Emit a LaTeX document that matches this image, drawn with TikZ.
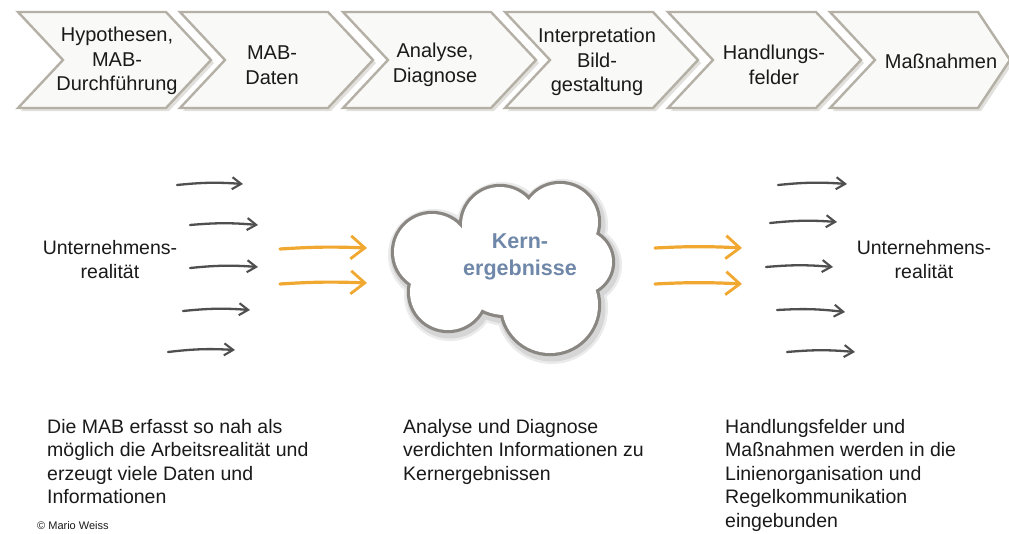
\documentclass[tikz,border=0pt]{standalone}
\usepackage{fontspec}
\setmainfont{Liberation Sans}
\usetikzlibrary{arrows.meta}
\definecolor{chevline}{HTML}{B4B0A6}
\definecolor{chevshadow}{HTML}{E2E0DC}
\definecolor{chevfill}{HTML}{F9F9F7}
\definecolor{arrgray}{HTML}{4F4F4F}
\definecolor{arrorange}{HTML}{F0A830}
\definecolor{kerncol}{HTML}{6F87A8}
\definecolor{cloudline}{HTML}{8A8682}
\definecolor{txt}{HTML}{1A1A1A}
\newcommand\chevshape[2]{%
  \fill[chevshadow] (#1+3,15) -- ++(148,0) -- ++(#2,48) -- ++(-#2,48) -- ++(-148,0) -- ++(45,-48) -- cycle;
  \draw[chevbox] (#1,12) -- ++(148,0) -- ++(#2,48) -- ++(-#2,48) -- ++(-148,0) -- ++(45,-48) -- cycle;}
\newcommand\cloudcircles[1]{%
  \path[#1] (432,252) circle[radius=38pt] (500,225) circle[radius=38pt]
    (560,222) circle[radius=38pt] (580,262) circle[radius=32pt]
    (550,305) circle[radius=48pt] (448,292) circle[radius=38pt]
    (505,265) circle[radius=50pt];}
\begin{document}
\begin{tikzpicture}[x=1pt,y=-1pt,
  chevbox/.style={draw=chevline,fill=chevfill,line width=2.4pt,line join=miter},
  ctext/.style={align=center,inner sep=0pt,text=txt,font=\fontsize{20}{24.5}\selectfont},
  utext/.style={align=center,inner sep=0pt,text=txt,font=\fontsize{19.5}{24}\selectfont},
  btext/.style={align=left,inner sep=0pt,anchor=north west,text=txt,font=\fontsize{19.5}{23.5}\selectfont},
  garrow/.style={draw=arrgray,line width=2.3pt,line cap=round,-{Straight Barb[length=9pt,width=12pt,line width=2.1pt]}},
  oarrow/.style={draw=arrorange,line width=3.2pt,line cap=round,-{Straight Barb[length=14pt,width=23pt,line width=2.8pt]}}]
\useasboundingbox (0,0) rectangle (1009,533);
\fill[white] (0,0) rectangle (1009,533);

% process chevrons
\chevshape{18}{45}
\chevshape{180}{45}
\chevshape{343}{45}
\chevshape{505}{45}
\chevshape{668}{45}
\chevshape{830}{32}
\node[ctext] (c1) at (117,61) {Hypothesen,\\MAB-\\Durchführung};
\node[ctext] (c2) at (272,65) {MAB-\\Daten};
\node[ctext] (c3) at (435,65) {Analyse,\\Diagnose};
\node[ctext] (c4) at (597,62) {Interpretation\\Bild-\\gestaltung};
\node[ctext] (c5) at (774,65) {Handlungs-\\felder};
\node[ctext] (c6) at (941,61) {Maßnahmen};

% labels
\node[utext] (uL) at (110,260) {Unternehmens-\\realität};
\node[utext] (uR) at (924,260) {Unternehmens-\\realität};

% cloud (union of circles with soft shadow)
\begin{scope}[shift={(2,3)}]
  \cloudcircles{draw=black!8,line width=16pt}
  \cloudcircles{draw=black!16,line width=11pt}
\end{scope}
\cloudcircles{draw=cloudline,line width=6.4pt}
\cloudcircles{fill=white}
\coordinate (cloud) at (505,265);
\node[align=center,inner sep=0pt,text=kerncol,font=\bfseries\fontsize{21.5}{27}\selectfont] (kern) at (520,257) {Kern-\\ergebnisse};

% arrow end points
\coordinate (l1a) at (177,185); \coordinate (l1b) at (243,184);
\coordinate (l2a) at (190,225); \coordinate (l2b) at (258,225);
\coordinate (l3a) at (190,268); \coordinate (l3b) at (258,267);
\coordinate (l4a) at (183,311); \coordinate (l4b) at (250,310);
\coordinate (l5a) at (168,352); \coordinate (l5b) at (235,350);
\coordinate (o1a) at (280,249); \coordinate (o1b) at (367,248);
\coordinate (o2a) at (280,284); \coordinate (o2b) at (367,283);
\coordinate (o3a) at (655,248); \coordinate (o3b) at (742,248);
\coordinate (o4a) at (655,284); \coordinate (o4b) at (742,284);
\coordinate (r1a) at (778,185); \coordinate (r1b) at (847,184);
\coordinate (r2a) at (770,223); \coordinate (r2b) at (837,222);
\coordinate (r3a) at (766,267); \coordinate (r3b) at (833,267);
\coordinate (r4a) at (777,310); \coordinate (r4b) at (845,312);
\coordinate (r5a) at (787,352); \coordinate (r5b) at (855,352);

\foreach \p in {l1,l2,l3,l4,l5,r1,r2,r3,r4,r5}
  \draw[garrow] (\p a) to[bend left=5] (\p b);
\foreach \p in {o1,o2,o3,o4}
  \draw[oarrow] (\p a) to[bend left=3] (\p b);

% texts
\node[btext] (b1) at (47,419) {Die MAB erfasst so nah als\\möglich die Arbeitsrealität und\\erzeugt viele Daten und\\Informationen};
\node[btext] (b2) at (403,419) {Analyse und Diagnose\\verdichten Informationen zu\\Kernergebnissen};
\node[btext] (b3) at (725,419) {Handlungsfelder und\\Maßnahmen werden in die\\Linienorganisation und\\Regelkommunikation\\eingebunden};
\node[anchor=base west,inner sep=0pt,text=txt,font=\fontsize{11}{13}\selectfont] (copy) at (37,529) {© Mario Weiss};
\end{tikzpicture}
\end{document}
